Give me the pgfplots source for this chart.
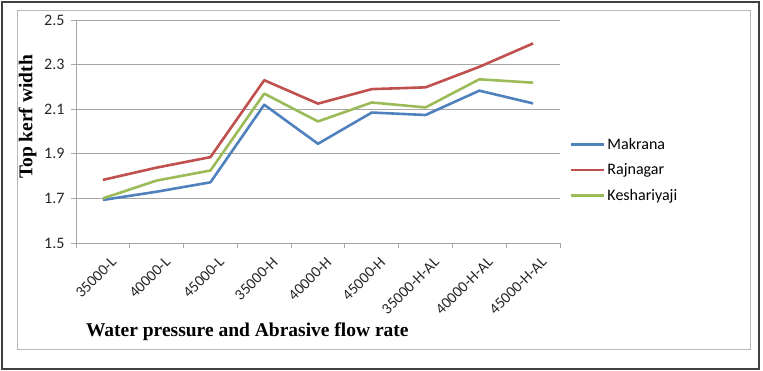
\documentclass[border=0pt]{standalone}
\usepackage{pgfplots}
\pgfplotsset{compat=1.18}
\usepackage{fontspec}
\setmainfont{Liberation Serif}
\newfontfamily\calfont{Carlito}
\definecolor{mblue}{HTML}{4F81BD}
\definecolor{mred}{HTML}{C0504D}
\definecolor{mgreen}{HTML}{9BBB59}
\definecolor{gridgray}{HTML}{A6A6A6}
\begin{document}
\begin{tikzpicture}[x=1pt,y=1pt]
\useasboundingbox (0,0) rectangle (763,371);
\draw[line width=1.2pt, black!75] (2,2) rectangle (759,369);
\draw[line width=0.8pt, gray!55] (17,22) rectangle (750,361);
\begin{axis}[
  at={(76pt,128pt)}, anchor=south west,
  scale only axis, width=484pt, height=223pt,
  xmin=0.5, xmax=9.5, ymin=1.5, ymax=2.5,
  axis lines*=left,
  axis line style={gridgray, line width=0.8pt, -},
  ytick={1.5,1.7,1.9,2.1,2.3,2.5},
  yticklabel style={/pgf/number format/fixed, /pgf/number format/precision=1, /pgf/number format/fixed zerofill, font=\calfont\fontsize{16}{18}\selectfont, text=black!85, xshift=-3pt},
  /pgf/number format/assume math mode=true,
  xtick={1,...,9},
  xticklabels={35000-L,40000-L,45000-L,35000-H,40000-H,45000-H,35000-H-AL,40000-H-AL,45000-H-AL},
  xticklabel style={rotate=45, anchor=east, font=\calfont\fontsize{15.5}{17}\selectfont, text=black!85, xshift=3pt, yshift=-16pt},
  minor xtick={0.5,1.5,...,9.5},
  tick align=outside,
  major x tick style={draw=none},
  minor x tick style={gridgray, line width=0.8pt},
  major y tick style={gridgray, line width=0.8pt},
  major tick length=5pt, minor tick length=5pt,
  ymajorgrids, grid style={gridgray, line width=0.8pt},
  ylabel={Top kerf width},
  ylabel style={at={(axis description cs:-0.1,0.565)}, anchor=center, font=\bfseries\fontsize{19.5}{21}\selectfont},
  xlabel={Water pressure and Abrasive flow rate},
  xlabel style={at={(axis description cs:0.354,-0.399)}, anchor=center, font=\bfseries\fontsize{19.5}{21}\selectfont},
  legend style={at={(axis description cs:1.02,0.327)}, anchor=west, draw=none, fill=none, font=\calfont\fontsize{16}{18}\selectfont, row sep=9pt, inner sep=0pt, legend cell align=left},
  legend image code/.code={\draw[#1, line width=2.6pt] (0pt,0pt) -- (33pt,0pt);},
  every axis plot/.append style={line width=2.6pt, line join=round},
  clip=false,
]
\addplot[mblue, no markers] coordinates {(1,1.693) (2,1.73) (3,1.772) (4,2.12) (5,1.945) (6,2.085) (7,2.074) (8,2.183) (9,2.126)};
\addlegendentry{Makrana}
\addplot[mred, no markers] coordinates {(1,1.783) (2,1.838) (3,1.885) (4,2.23) (5,2.125) (6,2.19) (7,2.198) (8,2.29) (9,2.395)};
\addlegendentry{Rajnagar}
\addplot[mgreen, no markers] coordinates {(1,1.70) (2,1.78) (3,1.825) (4,2.17) (5,2.045) (6,2.13) (7,2.108) (8,2.234) (9,2.219)};
\addlegendentry{Keshariyaji}
\end{axis}
\end{tikzpicture}
\end{document}
